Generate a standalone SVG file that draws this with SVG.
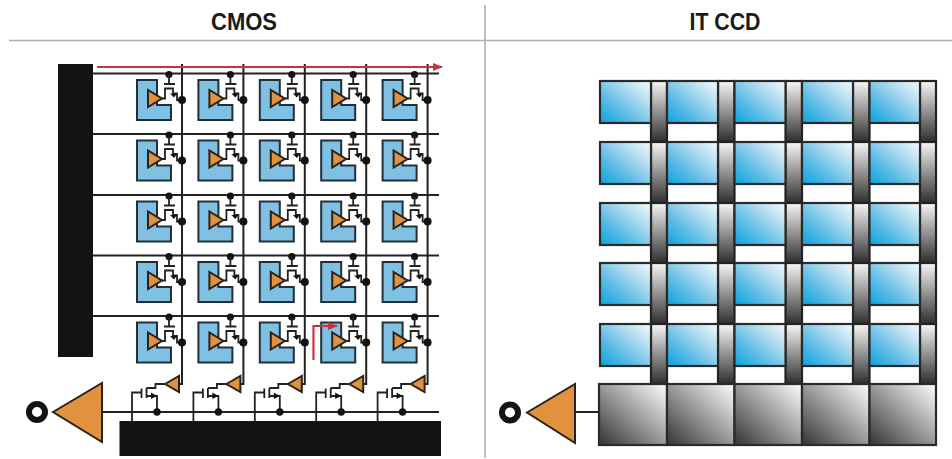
<svg xmlns="http://www.w3.org/2000/svg" width="952" height="459" viewBox="0 0 952 459">
<style>
text{font-family:"Liberation Sans",Arial,sans-serif;font-weight:700;font-size:24px;fill:#1a1a1a;text-anchor:middle}
.rule{stroke:#aeb0b0;stroke-width:1.6;fill:none}
.w{stroke:#222;stroke-width:1.8;fill:none}
.w2{stroke:#222;stroke-width:2;fill:none}
.red{stroke:#c8323f;stroke-width:2.200;fill:none}
.blk{fill:#131313}
.dot{fill:#131313}
.amp{fill:#e0923f;stroke:#2b2118;stroke-width:2;stroke-linejoin:miter}
.ring{fill:#fff;stroke:#131313;stroke-width:6}
.sens{fill:#80c0e3;stroke:#20303a;stroke-width:2}
.ccd{fill:url(#gb);stroke:#2a2a2a;stroke-width:2.200}
.bar{fill:url(#gv);stroke:#222;stroke-width:2.200}
.reg{fill:url(#gg);stroke:#2a2a2a;stroke-width:2.200}
</style>
<defs>
<linearGradient id="gb" x1="0" y1="1" x2="1" y2="0"><stop offset="0" stop-color="#08a4df"/><stop offset=".35" stop-color="#5dbce5"/><stop offset=".7" stop-color="#b6def0"/><stop offset="1" stop-color="#f5fbfd"/></linearGradient>
<linearGradient id="gv" x1="0" y1="0" x2="0" y2="1"><stop offset="0" stop-color="#f7f7f7"/><stop offset="1" stop-color="#2e2e2e"/></linearGradient>
<linearGradient id="gg" x1="0" y1="1" x2="1" y2="0"><stop offset="0" stop-color="#333"/><stop offset="1" stop-color="#fff"/></linearGradient>
<marker id="ah" markerUnits="userSpaceOnUse" markerWidth="10" markerHeight="8" refX="9" refY="4" orient="auto"><path d="M0,0L10,4L0,8Z" fill="#c8323f"/></marker>
<g id="pixel">
<path class="sens" d="M0,0H20V25H34V40H0Z"/>
<path class="amp" d="M11,10V27L25,18.5Z"/>
<circle class="dot" cx="32" cy="-5.5" r="3.6"/>
<path class="w" d="M32,-5V4M27,4H38M25,18.5H28V8.500H36V13.500H40V20H45"/>
<path d="M33,13.500H40L37,17.500Z" fill="#131313"/>
<circle class="dot" cx="45" cy="20" r="4"/>
</g>
<g id="readout">
<path class="w" d="M0,9V-19.500H9.500M9.500,-23.500V-14M14.500,-24V-14M14.500,-24H23.500V-28H32.500M14.500,-16H25V0"/>
<path d="M19,-19.500L25,-16L19,-13Z" fill="#131313"/>
<path class="amp" d="M33,-28L47,-36V-20Z"/>
<circle class="dot" cx="25" cy="0" r="3.700"/>
</g>
</defs>
<g id="frame">
<path class="rule" d="M9,40.500H952M485,5V458"/>
</g>
<text x="244" y="30" textLength="66" lengthAdjust="spacingAndGlyphs">CMOS</text>
<text x="725" y="30" textLength="71" lengthAdjust="spacingAndGlyphs">IT CCD</text>
<g id="row-decoder"><rect class="blk" x="58" y="64" width="35" height="293"/></g>
<g id="column-bus"><rect class="blk" x="119.500" y="421" width="321.500" height="35"/></g>
<g id="connectors">
<path class="w2" d="M93,73.500H439M93,134H439M93,195H439M93,255.500H439M93,316H439"/>
<path class="w2" d="M182,64V384H179M243.400,64V384H240.400M304.800,64V384H301.800M366.200,64V384H363.200M427.600,64V384H424.600"/>
<path class="w2" d="M102,412H439M575,412H599"/>
</g>
<g id="px-1-1"><use href="#pixel" x="137" y="80"/></g><g id="px-1-2"><use href="#pixel" x="198.400" y="80"/></g><g id="px-1-3"><use href="#pixel" x="259.800" y="80"/></g><g id="px-1-4"><use href="#pixel" x="321.200" y="80"/></g><g id="px-1-5"><use href="#pixel" x="382.600" y="80"/></g>
<g id="px-2-1"><use href="#pixel" x="137" y="140.500"/></g><g id="px-2-2"><use href="#pixel" x="198.400" y="140.500"/></g><g id="px-2-3"><use href="#pixel" x="259.800" y="140.500"/></g><g id="px-2-4"><use href="#pixel" x="321.200" y="140.500"/></g><g id="px-2-5"><use href="#pixel" x="382.600" y="140.500"/></g>
<g id="px-3-1"><use href="#pixel" x="137" y="201.500"/></g><g id="px-3-2"><use href="#pixel" x="198.400" y="201.500"/></g><g id="px-3-3"><use href="#pixel" x="259.800" y="201.500"/></g><g id="px-3-4"><use href="#pixel" x="321.200" y="201.500"/></g><g id="px-3-5"><use href="#pixel" x="382.600" y="201.500"/></g>
<g id="px-4-1"><use href="#pixel" x="137" y="262"/></g><g id="px-4-2"><use href="#pixel" x="198.400" y="262"/></g><g id="px-4-3"><use href="#pixel" x="259.800" y="262"/></g><g id="px-4-4"><use href="#pixel" x="321.200" y="262"/></g><g id="px-4-5"><use href="#pixel" x="382.600" y="262"/></g>
<g id="px-5-1"><use href="#pixel" x="137" y="322.500"/></g><g id="px-5-2"><use href="#pixel" x="198.400" y="322.500"/></g><g id="px-5-3"><use href="#pixel" x="259.800" y="322.500"/></g><g id="px-5-4"><use href="#pixel" x="321.200" y="322.500"/></g><g id="px-5-5"><use href="#pixel" x="382.600" y="322.500"/></g>
<g id="readout-1"><use href="#readout" x="132" y="412"/></g><g id="readout-2"><use href="#readout" x="193.400" y="412"/></g><g id="readout-3"><use href="#readout" x="254.800" y="412"/></g><g id="readout-4"><use href="#readout" x="316.200" y="412"/></g><g id="readout-5"><use href="#readout" x="377.600" y="412"/></g>
<g id="cmos-output"><path class="amp" d="M53,412L102,383V442Z"/><circle class="ring" cx="37" cy="412" r="8"/></g>
<g id="signal-paths">
<path class="red" marker-end="url(#ah)" d="M97,67H442"/>
<path class="red" marker-end="url(#ah)" d="M313.500,360V326H337"/>
</g>
<g id="ccd-bars">
<g id="bar-1-1"><rect class="bar" x="651" y="81" width="16" height="61"/></g><g id="bar-1-2"><rect class="bar" x="718" y="81" width="16.500" height="61"/></g><g id="bar-1-3"><rect class="bar" x="785.500" y="81" width="16.500" height="61"/></g><g id="bar-1-4"><rect class="bar" x="853" y="81" width="16.500" height="61"/></g><g id="bar-1-5"><rect class="bar" x="920" y="81" width="16" height="61"/></g>
<g id="bar-2-1"><rect class="bar" x="651" y="142" width="16" height="61"/></g><g id="bar-2-2"><rect class="bar" x="718" y="142" width="16.500" height="61"/></g><g id="bar-2-3"><rect class="bar" x="785.500" y="142" width="16.500" height="61"/></g><g id="bar-2-4"><rect class="bar" x="853" y="142" width="16.500" height="61"/></g><g id="bar-2-5"><rect class="bar" x="920" y="142" width="16" height="61"/></g>
<g id="bar-3-1"><rect class="bar" x="651" y="203" width="16" height="60"/></g><g id="bar-3-2"><rect class="bar" x="718" y="203" width="16.500" height="60"/></g><g id="bar-3-3"><rect class="bar" x="785.500" y="203" width="16.500" height="60"/></g><g id="bar-3-4"><rect class="bar" x="853" y="203" width="16.500" height="60"/></g><g id="bar-3-5"><rect class="bar" x="920" y="203" width="16" height="60"/></g>
<g id="bar-4-1"><rect class="bar" x="651" y="263" width="16" height="61"/></g><g id="bar-4-2"><rect class="bar" x="718" y="263" width="16.500" height="61"/></g><g id="bar-4-3"><rect class="bar" x="785.500" y="263" width="16.500" height="61"/></g><g id="bar-4-4"><rect class="bar" x="853" y="263" width="16.500" height="61"/></g><g id="bar-4-5"><rect class="bar" x="920" y="263" width="16" height="61"/></g>
<g id="bar-5-1"><rect class="bar" x="651" y="324" width="16" height="60"/></g><g id="bar-5-2"><rect class="bar" x="718" y="324" width="16.500" height="60"/></g><g id="bar-5-3"><rect class="bar" x="785.500" y="324" width="16.500" height="60"/></g><g id="bar-5-4"><rect class="bar" x="853" y="324" width="16.500" height="60"/></g><g id="bar-5-5"><rect class="bar" x="920" y="324" width="16" height="60"/></g>
</g>
<g id="ccd-1-1"><rect class="ccd" x="600" y="81" width="51" height="42"/></g><g id="ccd-1-2"><rect class="ccd" x="667" y="81" width="51" height="42"/></g><g id="ccd-1-3"><rect class="ccd" x="734.500" y="81" width="51" height="42"/></g><g id="ccd-1-4"><rect class="ccd" x="802" y="81" width="51" height="42"/></g><g id="ccd-1-5"><rect class="ccd" x="869.500" y="81" width="50.500" height="42"/></g>
<g id="ccd-2-1"><rect class="ccd" x="600" y="142" width="51" height="42"/></g><g id="ccd-2-2"><rect class="ccd" x="667" y="142" width="51" height="42"/></g><g id="ccd-2-3"><rect class="ccd" x="734.500" y="142" width="51" height="42"/></g><g id="ccd-2-4"><rect class="ccd" x="802" y="142" width="51" height="42"/></g><g id="ccd-2-5"><rect class="ccd" x="869.500" y="142" width="50.500" height="42"/></g>
<g id="ccd-3-1"><rect class="ccd" x="600" y="203" width="51" height="42"/></g><g id="ccd-3-2"><rect class="ccd" x="667" y="203" width="51" height="42"/></g><g id="ccd-3-3"><rect class="ccd" x="734.500" y="203" width="51" height="42"/></g><g id="ccd-3-4"><rect class="ccd" x="802" y="203" width="51" height="42"/></g><g id="ccd-3-5"><rect class="ccd" x="869.500" y="203" width="50.500" height="42"/></g>
<g id="ccd-4-1"><rect class="ccd" x="600" y="263" width="51" height="42"/></g><g id="ccd-4-2"><rect class="ccd" x="667" y="263" width="51" height="42"/></g><g id="ccd-4-3"><rect class="ccd" x="734.500" y="263" width="51" height="42"/></g><g id="ccd-4-4"><rect class="ccd" x="802" y="263" width="51" height="42"/></g><g id="ccd-4-5"><rect class="ccd" x="869.500" y="263" width="50.500" height="42"/></g>
<g id="ccd-5-1"><rect class="ccd" x="600" y="324" width="51" height="42"/></g><g id="ccd-5-2"><rect class="ccd" x="667" y="324" width="51" height="42"/></g><g id="ccd-5-3"><rect class="ccd" x="734.500" y="324" width="51" height="42"/></g><g id="ccd-5-4"><rect class="ccd" x="802" y="324" width="51" height="42"/></g><g id="ccd-5-5"><rect class="ccd" x="869.500" y="324" width="50.500" height="42"/></g>
<g id="reg-1"><rect class="reg" x="599" y="384" width="68" height="61"/></g><g id="reg-2"><rect class="reg" x="667" y="384" width="67.500" height="61"/></g><g id="reg-3"><rect class="reg" x="734.500" y="384" width="67.500" height="61"/></g><g id="reg-4"><rect class="reg" x="802" y="384" width="67.500" height="61"/></g><g id="reg-5"><rect class="reg" x="869.500" y="384" width="66.500" height="61"/></g>
<g id="ccd-output"><path class="amp" d="M527,412.500L575,384V443Z"/><circle class="ring" cx="510" cy="412.500" r="8"/></g>
</svg>
